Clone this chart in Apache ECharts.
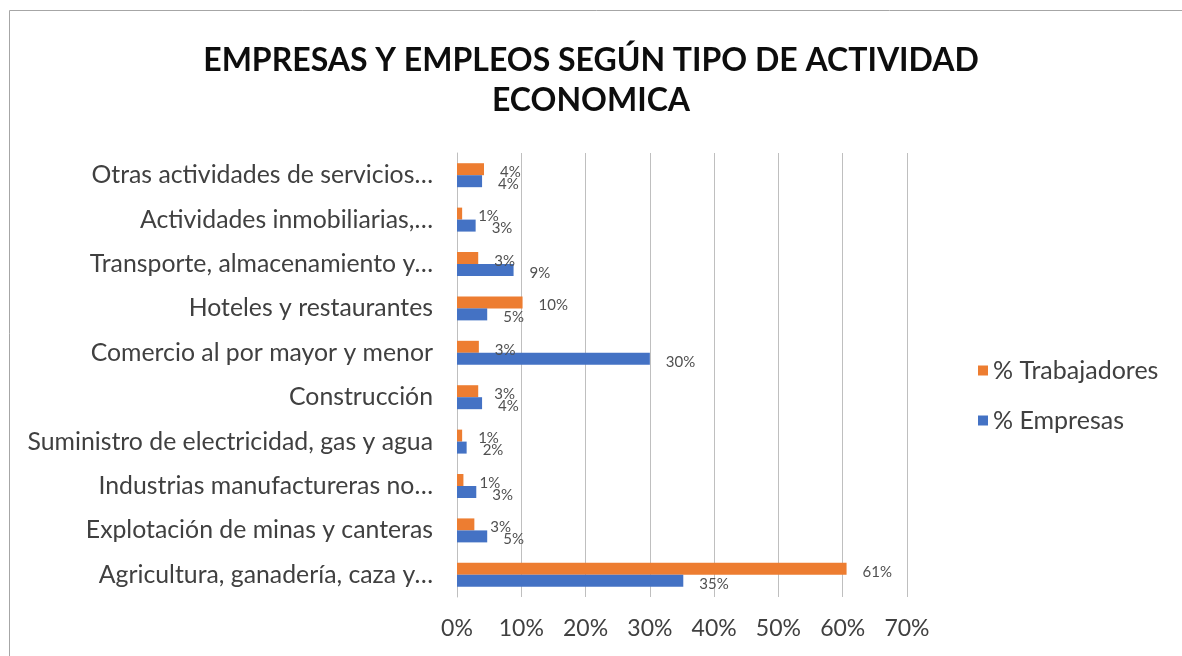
<!DOCTYPE html>
<html>
<head>
<meta charset="utf-8">
<script src="https://cdn.jsdelivr.net/npm/echarts@6/dist/echarts.min.js"></script>
<style>
  html, body { margin: 0; padding: 0; background: #fff; }
  #chart { width: 1182px; height: 656px; }
</style>
</head>
<body>
<div id="chart"></div>
<script>
const categories = [
  'Agricultura, ganadería, caza y…',
  'Explotación de minas y canteras',
  'Industrias manufactureras no…',
  'Suministro de electricidad, gas y agua',
  'Construcción',
  'Comercio al por mayor y menor',
  'Hoteles y restaurantes',
  'Transporte, almacenamiento y…',
  'Actividades inmobiliarias,…',
  'Otras actividades de servicios…'
];
// percent values
const empresas = [35.2, 4.7, 3.0, 1.5, 3.9, 30.0, 4.7, 8.8, 2.9, 3.9];
const trabajadores = [60.6, 2.7, 1.0, 0.8, 3.3, 3.4, 10.2, 3.3, 0.8, 4.2];
const xTicks = [0, 10, 20, 30, 40, 50, 60, 70];

const FONT = 'Lato, "Open Sans", sans-serif';
const chart = echarts.init(document.getElementById('chart'));

const labelCfg = {
  show: true,
  position: 'right',
  distance: 16,
  offset: [0, 3],
  color: '#505050',
  fontSize: 15,
  fontFamily: FONT,
  formatter: (p) => Math.round(p.value) + '%'
};

chart.setOption({
  animation: false,
  title: {
    text: 'EMPRESAS Y EMPLEOS SEGÚN TIPO DE ACTIVIDAD\nECONOMICA',
    left: 'center',
    top: 36,
    padding: [5, 0, 5, 12],
    textStyle: {
      fontFamily: FONT,
      fontWeight: 'bold',
      fontSize: 32,
      lineHeight: 40,
      color: '#0d0d0d'
    }
  },
  legend: {
    orient: 'vertical',
    left: 973,
    top: 353,
    itemWidth: 10,
    itemHeight: 10,
    itemGap: 25,
    icon: 'rect',
    data: ['% Trabajadores', '% Empresas'],
    textStyle: { fontFamily: FONT, fontSize: 25, color: '#404040' }
  },
  grid: { left: 457, right: 275, top: 153, bottom: 59 },
  xAxis: {
    type: 'value',
    min: xTicks[0],
    max: xTicks[xTicks.length - 1],
    interval: 10,
    axisLine: { show: false },
    axisTick: { show: false },
    splitLine: { lineStyle: { color: '#bfbfbf', width: 1 } },
    axisLabel: {
      fontFamily: FONT,
      fontSize: 23,
      color: '#404040',
      margin: 20,
      formatter: (v) => v + '%'
    }
  },
  yAxis: {
    type: 'category',
    data: categories,
    axisLine: { show: true, lineStyle: { color: '#bfbfbf' } },
    axisTick: { show: false },
    axisLabel: {
      fontFamily: FONT,
      fontSize: 24.8,
      color: '#404040',
      margin: 24
    }
  },
  series: [
    {
      name: '% Trabajadores',
      type: 'bar',
      data: trabajadores,
      itemStyle: { color: '#ED7D31' },
      barGap: '0%',
      barCategoryGap: '46%',
      label: labelCfg
    },
    {
      name: '% Empresas',
      type: 'bar',
      data: empresas,
      itemStyle: { color: '#4472C4' },
      barGap: '0%',
      barCategoryGap: '46%',
      label: labelCfg
    }
  ],
  graphic: [
    {
      type: 'rect',
      shape: { x: 9.5, y: 10.5, width: 1200, height: 700 },
      style: { fill: 'none', stroke: '#a6a6a6', lineWidth: 1 },
      silent: true
    }
  ]
});
</script>
</body>
</html>
